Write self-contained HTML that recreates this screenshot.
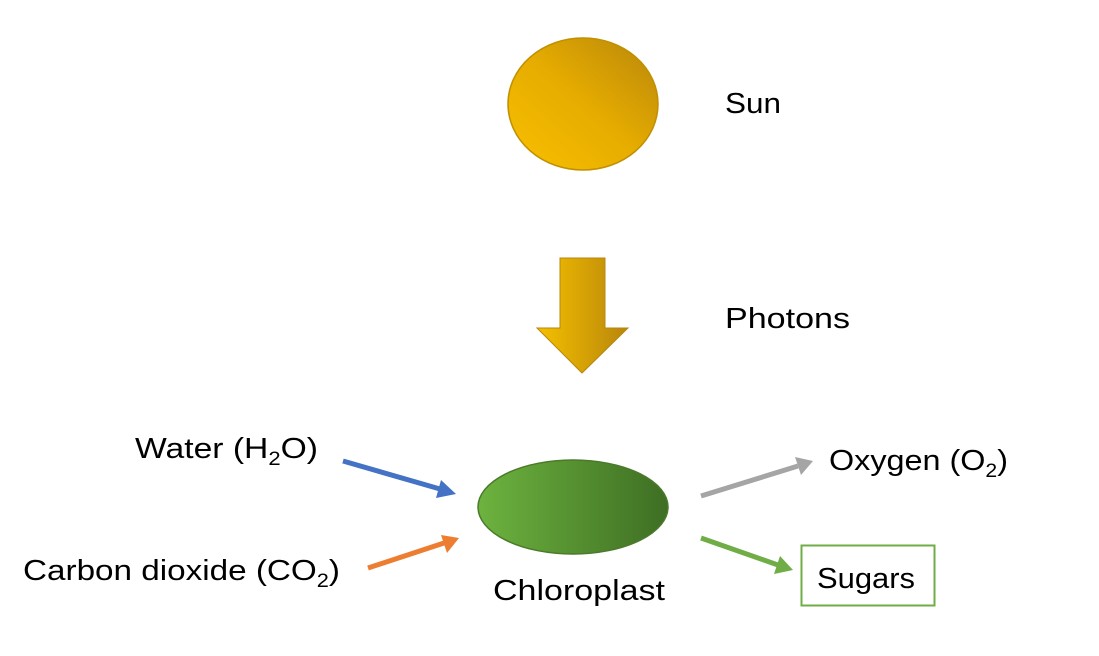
<!DOCTYPE html>
<html><head><style>html,body{margin:0;padding:0;background:#fff;}</style></head><body>
<svg width="1099" height="651" viewBox="0 0 1099 651" xmlns="http://www.w3.org/2000/svg" font-family="Liberation Sans, sans-serif" font-size="29" fill="#000">
<defs>
<linearGradient id="sun" x1="0" y1="1" x2="1" y2="0">
<stop offset="0" stop-color="#f9c000"/><stop offset="0.5" stop-color="#e6ac00"/><stop offset="1" stop-color="#b8860b"/>
</linearGradient>
<linearGradient id="arr" x1="0" y1="0" x2="1" y2="0">
<stop offset="0" stop-color="#f5c000"/><stop offset="1" stop-color="#b8860b"/>
</linearGradient>
<linearGradient id="chl" x1="0" y1="0" x2="1" y2="0">
<stop offset="0" stop-color="#6db33f"/><stop offset="1" stop-color="#3e6e23"/>
</linearGradient>
</defs>
<ellipse cx="583" cy="104" rx="75" ry="66" fill="url(#sun)" stroke="#c09000" stroke-width="1.5"/>
<text x="725" y="113" textLength="56" lengthAdjust="spacingAndGlyphs">Sun</text>
<polygon points="560,258 605,258 605,328 628,328 582,373 537,328 560,328" fill="url(#arr)" stroke="#b8860b" stroke-width="1"/>
<text x="725" y="328" textLength="125" lengthAdjust="spacingAndGlyphs">Photons</text>
<ellipse cx="573" cy="507" rx="95" ry="47" fill="url(#chl)" stroke="#4a7a2a" stroke-width="1.5"/>
<text x="493" y="600" textLength="172" lengthAdjust="spacingAndGlyphs">Chloroplast</text>
<text x="135" y="458" textLength="183" lengthAdjust="spacingAndGlyphs">Water (H<tspan font-size="19" dy="7">2</tspan><tspan dy="-7">O)</tspan></text>
<text x="23" y="580" textLength="317" lengthAdjust="spacingAndGlyphs">Carbon dioxide (CO<tspan font-size="19" dy="7">2</tspan><tspan dy="-7">)</tspan></text>
<text x="829" y="470" textLength="179" lengthAdjust="spacingAndGlyphs">Oxygen (O<tspan font-size="19" dy="7">2</tspan><tspan dy="-7">)</tspan></text>
<rect x="801.5" y="545.5" width="133" height="60" fill="none" stroke="#70ad47" stroke-width="2"/>
<text x="817" y="588" textLength="98" lengthAdjust="spacingAndGlyphs">Sugars</text>
<g stroke-width="5">
<line x1="343" y1="461" x2="440" y2="489" stroke="#4472c4"/>
<polygon points="456,494 436,498 441,480" fill="#4472c4"/>
<line x1="368" y1="568" x2="444" y2="543" stroke="#ed7d31"/>
<polygon points="459,538 447,553 441,535" fill="#ed7d31"/>
<line x1="701" y1="496" x2="798" y2="466" stroke="#a5a5a5"/>
<polygon points="813,461 801,475 795,457" fill="#a5a5a5"/>
<line x1="701" y1="538" x2="778" y2="565" stroke="#70ad47"/>
<polygon points="793,570 774,574 780,556" fill="#70ad47"/>
</g>
</svg>
</body></html>
